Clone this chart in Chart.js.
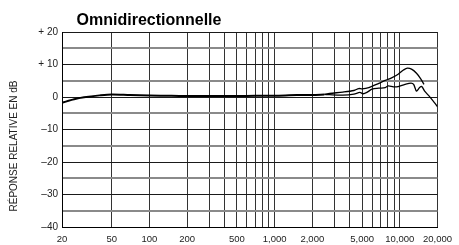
<!DOCTYPE html>
<html>
<head>
<meta charset="utf-8">
<script src="https://cdn.jsdelivr.net/npm/chart.js@4/dist/chart.umd.min.js"></script>
<style>
  body { margin: 0; background: #fff; }
</style>
</head>
<body>
<canvas id="responseChart" width="459" height="245"></canvas>
<script>
// curve shared by both responses up to ~2.5 kHz
const sharedFreq = [20, 25, 30, 40, 50, 70, 100, 150, 200, 300, 500, 700, 1000, 1500, 2000, 2500];
const sharedDb = [-1.75, -0.7, -0.1, 0.5, 0.8, 0.6, 0.45, 0.35, 0.3, 0.3, 0.3, 0.35, 0.4, 0.6, 0.6, 0.8];

// upper branch (presence peak)
const upperFreq = [2750, 3500, 4300, 4700, 5000, 5650, 6800, 7650, 8600, 9700, 10700, 11500, 12500, 13600, 14700, 15600];
const upperDb = [1.1, 1.5, 2.0, 2.6, 2.5, 2.9, 4.2, 5.1, 5.9, 7.0, 8.3, 8.9, 8.5, 7.3, 5.6, 3.9];

// lower branch
const lowerFreq = [2750, 3500, 4300, 4800, 5100, 5500, 6000, 6800, 7650, 8100, 8900, 9700, 11000, 12300, 12900, 13600, 14400, 15000, 15800, 17300, 18900, 20000];
const lowerDb = [0.7, 0.6, 0.9, 1.4, 1.0, 1.5, 2.4, 2.7, 2.9, 3.4, 3.1, 3.2, 3.9, 4.3, 3.9, 1.8, 2.9, 3.2, 1.8, 0.1, -1.75, -3.0];

// axes
const xGridValues = [20, 50, 100, 200, 300, 400, 500, 600, 700, 800, 900, 1000, 2000, 3000, 4000, 5000, 6000, 7000, 8000, 9000, 10000, 20000];
const xTickValues = [20, 50, 100, 200, 500, 1000, 2000, 5000, 10000, 20000];
const xTickLabels = ['20', '50', '100', '200', '500', '1,000', '2,000', '5,000', '10,000', '20,000'];
const yTickValues = [20, 10, 0, -10, -20, -30, -40];
const yTickLabels = ['+ 20', '+ 10', '0', '\u201310', '\u201320', '\u201330', '\u201340'];

const chartTitle = 'Omnidirectionnelle';
const yTitle = 'RÉPONSE RELATIVE EN dB';

Chart.defaults.font.family = '"Liberation Sans", Arial, Helvetica, sans-serif';
Chart.defaults.color = '#222';

function toPoints(xs, ys) {
  return xs.map((x, i) => ({ x: x, y: ys[i] }));
}

const joinFreq = sharedFreq[sharedFreq.length - 1];
const joinDb = sharedDb[sharedDb.length - 1];

// title + rotated axis caption drawn by hand so they sit where the original has them
const textPlugin = {
  id: 'texts',
  afterDraw(chart) {
    const ctx = chart.ctx;
    ctx.save();
    ctx.fillStyle = '#000';
    ctx.font = 'bold 16px "Liberation Sans", Arial, sans-serif';
    ctx.textAlign = 'center';
    ctx.textBaseline = 'alphabetic';
    ctx.fillText(chartTitle, 149, 25);

    ctx.translate(14, 146);
    ctx.rotate(-Math.PI / 2);
    ctx.fillStyle = '#222';
    ctx.font = '10px "Liberation Sans", Arial, sans-serif';
    ctx.textBaseline = 'middle';
    ctx.fillText(yTitle, 0, 0);
    ctx.restore();
  }
};

const ctx = document.getElementById('responseChart').getContext('2d');
new Chart(ctx, {
  type: 'line',
  data: {
    datasets: [
      {
        data: toPoints(sharedFreq, sharedDb),
        borderColor: '#000',
        borderWidth: 2,
        pointRadius: 0,
        tension: 0.3
      },
      {
        data: [{ x: joinFreq, y: joinDb }].concat(toPoints(upperFreq, upperDb)),
        borderColor: '#000',
        borderWidth: 1.3,
        pointRadius: 0,
        tension: 0.3
      },
      {
        data: [{ x: joinFreq, y: joinDb }].concat(toPoints(lowerFreq, lowerDb)),
        borderColor: '#000',
        borderWidth: 1.3,
        pointRadius: 0,
        tension: 0.3
      }
    ]
  },
  options: {
    responsive: false,
    animation: false,
    devicePixelRatio: 1,
    layout: { padding: { top: 32, right: 16, left: 0, bottom: 0 } },
    plugins: {
      legend: { display: false },
      title: { display: false },
      tooltip: { enabled: false }
    },
    scales: {
      x: {
        type: 'logarithmic',
        min: 20,
        max: 20000,
        afterBuildTicks: scale => {
          scale.ticks = xGridValues.map(v => ({ value: v }));
        },
        afterFit: scale => { scale.height = 18; },
        ticks: {
          autoSkip: false,
          maxRotation: 0,
          padding: 7,
          font: { size: 9.5 },
          callback: value => {
            const i = xTickValues.indexOf(value);
            return i >= 0 ? xTickLabels[i] : '';
          }
        },
        grid: { color: '#333', lineWidth: 1, drawTicks: false },
        border: { color: '#000' }
      },
      y: {
        min: -40,
        max: 20,
        afterFit: scale => { scale.width = 62; },
        ticks: {
          stepSize: 5,
          padding: 4,
          font: { size: 10 },
          callback: value => {
            const i = yTickValues.indexOf(value);
            return i >= 0 ? yTickLabels[i] : '';
          }
        },
        grid: {
          drawTicks: false,
          color: c => (c.tick && c.tick.value % 10 !== 0) ? '#8a8a8a' : '#1a1a1a',
          lineWidth: c => (c.tick && c.tick.value % 10 !== 0) ? 2 : 1
        },
        border: { color: '#000' }
      }
    }
  },
  plugins: [textPlugin]
});
</script>
</body>
</html>
